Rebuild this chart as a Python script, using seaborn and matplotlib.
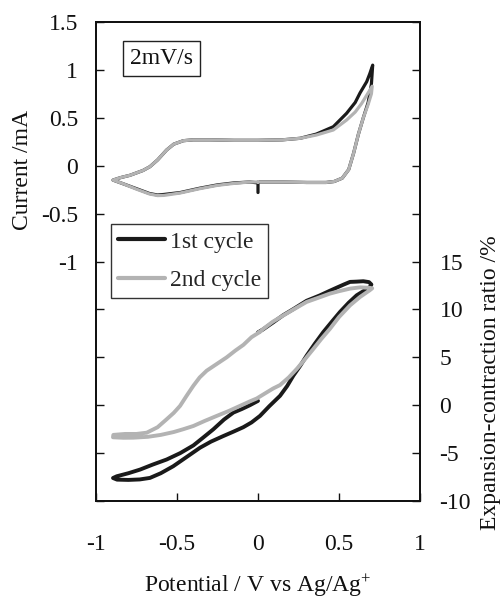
import numpy as np
import pandas as pd
import matplotlib
matplotlib.use("Agg")
import matplotlib.pyplot as plt
from matplotlib.lines import Line2D
import seaborn as sns

# ---------------- data ----------------
cycles = ["1st cycle", "2nd cycle"]
colors = ["#1a1a1a", "#b3b3b3"]

# Cyclic voltammogram, 1st cycle (potential V, current mA)
cv1_v = [0.0, 0.0, -0.05, -0.15, -0.25, -0.36, -0.48, -0.58, -0.62, -0.67, -0.75, -0.83, -0.895,
         -0.85, -0.79, -0.71, -0.667, -0.62, -0.564, -0.52, -0.461, -0.40, -0.30, -0.15, 0.0, 0.15,
         0.26, 0.36, 0.465, 0.547, 0.60, 0.63, 0.671, 0.69, 0.708,
         0.70, 0.68, 0.65, 0.62, 0.59, 0.56, 0.52, 0.47, 0.42, 0.30, 0.15, 0.0]
cv1_i = [-0.28, -0.18, -0.17, -0.18, -0.20, -0.235, -0.28, -0.30, -0.306, -0.29, -0.24, -0.19, -0.15,
         -0.125, -0.10, -0.05, -0.01, 0.06, 0.164, 0.225, 0.261, 0.27, 0.27, 0.265, 0.265, 0.27,
         0.286, 0.33, 0.407, 0.547, 0.66, 0.76, 0.877, 0.96, 1.05,
         0.85, 0.66, 0.50, 0.33, 0.13, -0.04, -0.13, -0.165, -0.175, -0.175, -0.17, -0.17]

# Cyclic voltammogram, 2nd cycle
cv2_v = [0.0, -0.05, -0.15, -0.25, -0.36, -0.48, -0.58, -0.62, -0.67, -0.75, -0.83, -0.895,
         -0.85, -0.79, -0.71, -0.667, -0.62, -0.564, -0.52, -0.461, -0.40, -0.30, -0.15, 0.0, 0.15,
         0.26, 0.36, 0.465, 0.547, 0.60, 0.64, 0.68, 0.705,
         0.70, 0.68, 0.65, 0.62, 0.59, 0.56, 0.52, 0.47, 0.42, 0.30, 0.15, 0.0]
cv2_i = [-0.17, -0.17, -0.185, -0.205, -0.24, -0.285, -0.31, -0.312, -0.295, -0.245, -0.19, -0.15,
         -0.125, -0.10, -0.05, -0.01, 0.06, 0.164, 0.225, 0.261, 0.27, 0.27, 0.265, 0.265, 0.27,
         0.286, 0.32, 0.373, 0.477, 0.56, 0.65, 0.76, 0.83,
         0.75, 0.64, 0.50, 0.33, 0.13, -0.04, -0.13, -0.165, -0.175, -0.175, -0.17, -0.17]

# Expansion-contraction ratio, 1st cycle (potential V, ratio %)
ex1_v = [0.0, -0.05, -0.10, -0.152, -0.21, -0.276, -0.34, -0.399, -0.48, -0.564, -0.65,
         -0.728, -0.80, -0.872, -0.895, -0.87, -0.80, -0.73, -0.667, -0.60, -0.523, -0.44,
         -0.358, -0.29, -0.214, -0.15, -0.091, -0.04, 0.012, 0.07, 0.136, 0.18, 0.218, 0.26,
         0.30, 0.35, 0.403, 0.455, 0.506, 0.56, 0.609, 0.65, 0.691, 0.70, 0.685, 0.65, 0.61,
         0.568, 0.53, 0.49, 0.444, 0.38, 0.30, 0.22, 0.156, 0.09, 0.03, 0.0]
ex1_r = [0.45, 0.0, -0.4, -0.77, -1.5, -2.52, -3.4, -4.2, -5.0, -5.67, -6.2,
         -6.72, -7.1, -7.42, -7.6, -7.77, -7.8, -7.75, -7.59, -7.1, -6.37, -5.4,
         -4.44, -3.8, -3.22, -2.75, -2.3, -1.8, -1.12, -0.1, 0.98, 2.0, 3.08, 4.1,
         5.17, 6.4, 7.63, 8.7, 9.73, 10.7, 11.47, 11.9, 12.35, 12.6, 12.85, 12.94, 12.9,
         12.87, 12.6, 12.3, 11.95, 11.45, 10.9, 10.05, 9.4, 8.6, 7.9, 7.6]

# Expansion-contraction ratio, 2nd cycle
ex2_v = [0.01, -0.04, -0.09, -0.14, -0.193, -0.255, -0.317, -0.36, -0.399, -0.44, -0.481,
         -0.52, -0.564, -0.62, -0.687, -0.75, -0.82, -0.893, -0.895, -0.83, -0.77, -0.68,
         -0.60, -0.52, -0.46, -0.399, -0.33, -0.255, -0.18, -0.111, -0.05, -0.008, 0.05,
         0.094, 0.136, 0.19, 0.239, 0.29, 0.342, 0.39, 0.444, 0.50, 0.568, 0.63, 0.69, 0.705,
         0.69, 0.63, 0.568, 0.50, 0.444, 0.37, 0.30, 0.23, 0.156, 0.09, 0.033, 0.01]
ex2_r = [7.63, 7.1, 6.3, 5.7, 5.0, 4.3, 3.6, 2.9, 2.03, 1.0, -0.07,
         -0.8, -1.47, -2.3, -2.87, -3.0, -3.0, -3.1, -3.35, -3.4, -3.39, -3.3,
         -3.1, -2.8, -2.5, -2.17, -1.65, -1.12, -0.6, -0.07, 0.4, 0.7, 1.3,
         1.75, 2.1, 2.9, 3.78, 4.8, 5.88, 6.9, 7.97, 9.2, 10.42, 11.3, 12.0, 12.2,
         12.25, 12.3, 12.17, 11.9, 11.65, 11.2, 10.78, 10.1, 9.37, 8.7, 7.97, 7.63]

x_ticks = [-1, -0.5, 0, 0.5, 1]
x_labels = ["-1", "-0.5", "0", "0.5", "1"]
cur_ticks = [-3.5, -3, -2.5, -2, -1.5, -1, -0.5, 0, 0.5, 1, 1.5]
cur_labels = ["", "", "", "", "", "-1", "-0.5", "0", "0.5", "1", "1.5"]
exp_ticks = [-10, -5, 0, 5, 10, 15, 20, 25, 30, 35, 40]
exp_labels = ["-10", "-5", "0", "5", "10", "15", "", "", "", "", ""]

# ---------------- frames ----------------
df_cv = pd.concat([
    pd.DataFrame({"potential": cv1_v, "current": cv1_i, "cycle": cycles[0]}),
    pd.DataFrame({"potential": cv2_v, "current": cv2_i, "cycle": cycles[1]}),
], ignore_index=True)
df_ex = pd.concat([
    pd.DataFrame({"potential": ex1_v, "ratio": ex1_r, "cycle": cycles[0]}),
    pd.DataFrame({"potential": ex2_v, "ratio": ex2_r, "cycle": cycles[1]}),
], ignore_index=True)

# ---------------- style ----------------
sns.set_theme(style="white")
plt.rcParams["font.family"] = ["Liberation Serif", "DejaVu Serif"]
plt.rcParams["mathtext.fontset"] = "custom"
plt.rcParams["mathtext.rm"] = "Liberation Serif"
plt.rcParams["mathtext.it"] = "Liberation Serif:italic"
FS = 17

fig = plt.figure(figsize=(5.02, 6.01), dpi=100)
ax = fig.add_axes([96 / 502, 1 - 501 / 601, 324 / 502, 479 / 601])
ax2 = ax.twinx()

palette = dict(zip(cycles, colors))
sns.lineplot(data=df_cv, x="potential", y="current", hue="cycle", hue_order=cycles,
             palette=palette, sort=False, estimator=None, lw=2.3, ax=ax, legend=False)
sns.lineplot(data=df_ex, x="potential", y="ratio", hue="cycle", hue_order=cycles,
             palette=palette, sort=False, estimator=None, lw=2.8, ax=ax2, legend=False)

ax.set_xlim(-1, 1)
ax.set_ylim(-3.5, 1.5)
ax2.set_ylim(-10, 40)

ax.set_xticks(x_ticks)
ax.set_xticklabels(x_labels, fontsize=FS)
ax.set_yticks(cur_ticks)
ax.set_yticklabels(cur_labels, fontsize=FS)
ax2.set_yticks(exp_ticks)
ax2.set_yticklabels(exp_labels, fontsize=FS)

ax.tick_params(axis="x", bottom=True, direction="in", length=6, width=1, pad=24, colors="#111")
ax.tick_params(axis="y", left=True, right=False, direction="in", length=6, width=1, pad=13, colors="#111")
ax2.tick_params(axis="y", right=True, left=False, direction="in", length=6, width=1, pad=14, colors="#111")

for a in (ax, ax2):
    for s in a.spines.values():
        s.set_color("#111")
        s.set_linewidth(1.3)

ax.set_xlabel("Potential / V vs Ag/Ag$^{+}$", fontsize=FS, color="#111", va="top")
ax.xaxis.set_label_coords(0.5, -0.150)
ax.set_ylabel("Current /mA", fontsize=FS, color="#111", va="center", ha="center")
ax.yaxis.set_label_coords(-0.228, 0.691)
ax2.set_ylabel("Expansion-contraction ratio /%", fontsize=FS, color="#111",
               va="center", ha="center")
ax2.yaxis.set_label_coords(1.218, 0.246)

handles = [Line2D([], [], color=c, lw=3) for c in colors]
leg = ax2.legend(handles, cycles, loc="upper left", bbox_to_anchor=(0.046, 0.578),
                 frameon=True, fancybox=False, edgecolor="#333", framealpha=1,
                 handlelength=2.0, handletextpad=0.2, labelspacing=0.72, borderpad=0.3,
                 borderaxespad=0, fontsize=FS)
leg.get_frame().set_linewidth(1.0)

ax2.text(0.202, 0.924, "2mV/s", transform=ax2.transAxes, ha="center", va="center",
         fontsize=FS, color="#111",
         bbox=dict(boxstyle="square,pad=0.3", fc="white", ec="#222", lw=1.0))

fig.savefig("out.png", dpi=100)
